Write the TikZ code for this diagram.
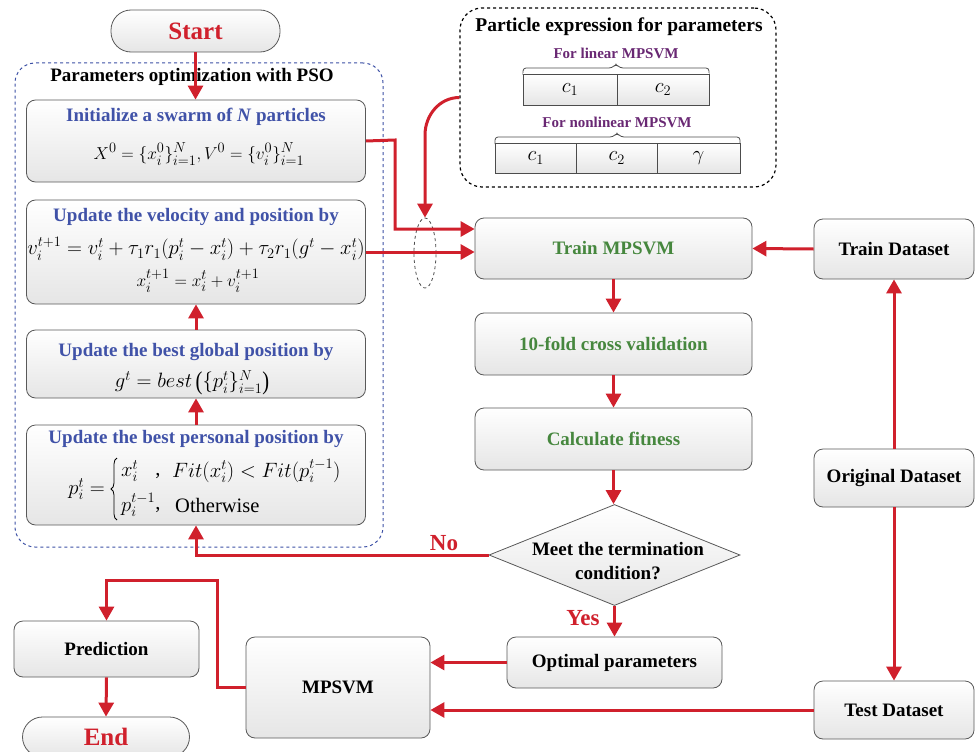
\documentclass[tikz,border=0pt]{standalone}
\usepackage{amsmath}
\usepackage{fontspec}
\setmainfont{Liberation Serif}
\usepackage{graphicx}
\usetikzlibrary{arrows.meta,shapes.geometric,decorations.pathreplacing}
\definecolor{myred}{RGB}{208,32,44}
\definecolor{tblue}{RGB}{64,82,168}
\definecolor{dblue}{RGB}{60,80,165}
\definecolor{tgreen}{RGB}{70,135,62}
\definecolor{tpurple}{RGB}{105,40,115}
\newcommand\fmain{\fontsize{19}{23}\selectfont\bfseries}
\newcommand\fmath{\fontsize{19}{23}\selectfont}
\newcommand\fpers{\fontsize{20.5}{24}\selectfont}
\newcommand\fcell{\fontsize{22}{26}\selectfont}
\newcommand\fsmall{\fontsize{15}{18}\selectfont\bfseries}
\newcommand\fred{\fontsize{25}{30}\selectfont\bfseries}
\newcommand\flab{\fontsize{23}{27}\selectfont\bfseries}
\begin{document}
\begin{tikzpicture}[x=1pt,y=-1pt,
  box/.style={draw=black!65, line width=0.8pt, rounded corners=9pt, top color=white, bottom color=black!10, inner sep=0pt, align=center, font=\fmain},
  pill/.style={box, rounded corners=20pt},
  cell/.style={draw=black!70, line width=0.8pt, top color=white, bottom color=black!10, inner sep=0pt, font=\fcell},
  psobox/.style={draw=dblue, dashed, line width=1pt, rounded corners=20pt, inner sep=0pt},
  partbox/.style={draw=black, dashed, line width=1.2pt, rounded corners=22pt, inner sep=0pt},
  arr/.style={draw=myred, line width=3pt, -{Triangle[length=14pt,width=15pt]}},
  lbl/.style={font=\fmain, inner sep=0pt},
  frm/.style={font=\fmath, inner sep=0pt},
  pfrm/.style={font=\fpers, inner sep=0pt}
]
\useasboundingbox (0,0) rectangle (977,752);

% ---------- PSO group ----------
\node[psobox, minimum width=368pt, minimum height=484pt] (pso) at (199,305) {};
\node[lbl] (psot) at (192,77) {Parameters optimization with PSO};

\node[pill, minimum width=169pt, minimum height=42pt, font=\fred, text=myred] (start) at (195.5,31) {Start};

\node[box, minimum width=339pt, minimum height=82pt] (init) at (196,141) {};
\node[lbl, text=tblue] (initt) at (196,117) {Initialize a swarm of \textit{N} particles};
\node[frm] (initf) at (199,154) {$X^0=\{x_i^0\}_{i=1}^N, V^0=\{v_i^0\}_{i=1}^N$};

\node[box, minimum width=339pt, minimum height=104pt] (vel) at (196,252) {};
\node[lbl, text=tblue] (velt) at (196,217) {Update the velocity and position by};
\node[frm, font=\fontsize{20.3}{24}\selectfont] (velf1) at (196,249) {$v_i^{t+1} = v_i^t+\tau_1 r_1(p_i^t - x_i^t)+\tau_2 r_1(g^t - x_i^t)$};
\node[frm] (velf2) at (198,281) {$x_i^{t+1} = x_i^t + v_i^{t+1}$};

\node[box, minimum width=339pt, minimum height=68pt] (glob) at (196,364) {};
\node[lbl, text=tblue] (globt) at (196,352) {Update the best global position by};
\node[frm, font=\fontsize{20.5}{24}\selectfont] (globf) at (192,383) {$g^t = best$\,\raisebox{-2pt}{\scalebox{1}[1.25]{(}}$\{p_i^t\}_{i=1}^N$\raisebox{-2pt}{\scalebox{1}[1.25]{)}}};

\node[box, minimum width=339pt, minimum height=100pt] (pers) at (196,475) {};
\node[lbl, text=tblue] (perst) at (196,439) {Update the best personal position by};
\node[pfrm, anchor=east] (pl) at (105,489) {$p_i^t=$};
\draw[decorate, decoration={brace, amplitude=6pt}, line width=0.8pt] (117,520) -- (117,458);
\node[pfrm, anchor=west] (px) at (121,471) {$x_i^t$};
\node[pfrm, anchor=west] (pp) at (121,505) {$p_i^{t-1}$};
\node[pfrm] (pc1) at (158,476) {,};
\node[pfrm] (pc2) at (158,510) {,};
\node[pfrm, anchor=west] (pfit) at (172,471) {$Fit(x_i^t)<Fit(p_i^{t-1})$};
\node[pfrm, anchor=west] (poth) at (175,505) {Otherwise};

% ---------- particle expression ----------
\node[partbox, minimum width=316pt, minimum height=179pt] (part) at (618,97.5) {};
\node[lbl, font=\fontsize{19.5}{23}\selectfont\bfseries] (partt) at (619,27) {Particle expression for parameters};
\node[font=\fsmall, text=tpurple, inner sep=0pt] (lin) at (616,53) {For linear MPSVM};
\draw[black!70, line width=0.8pt, rounded corners=3pt] (523,75) -- (523,68) -- (612,68) -- (616,64) -- (620,68) -- (709,68) -- (709,75);
\node[cell, minimum width=94pt, minimum height=31pt] (l1) at (570,89.5) {$c_1$};
\node[cell, minimum width=92pt, minimum height=31pt] (l2) at (663,89.5) {$c_2$};
\node[font=\fsmall, text=tpurple, inner sep=0pt] (nlin) at (617,122) {For nonlinear MPSVM};
\draw[black!70, line width=0.8pt, rounded corners=3pt] (495,144) -- (495,137) -- (613,137) -- (617,133) -- (621,137) -- (740,137) -- (740,144);
\node[cell, minimum width=81.5pt, minimum height=30pt] (n1) at (535.75,158) {$c_1$};
\node[cell, minimum width=80.5pt, minimum height=30pt] (n2) at (616.75,158) {$c_2$};
\node[cell, minimum width=83pt, minimum height=30pt] (n3) at (698.5,158) {$\gamma$};

\node[draw=black!70, dashed, line width=0.8pt, ellipse, minimum width=22pt, minimum height=70pt, inner sep=0pt] (ell) at (425,253) {};

% ---------- main column ----------
\node[box, minimum width=277pt, minimum height=61pt, text=tgreen] (train) at (613.5,248.5) {Train MPSVM};
\node[box, minimum width=277pt, minimum height=62pt, text=tgreen] (fold) at (613.5,344) {10-fold cross validation};
\node[box, minimum width=277pt, minimum height=62pt, text=tgreen] (fit) at (613.5,439) {Calculate fitness};
\node[diamond, draw=black!65, line width=0.8pt, top color=white, bottom color=black!10, minimum width=251pt, minimum height=101pt, inner sep=0pt] (dia) at (614.5,555) {};
\node[lbl, align=center] (diat) at (618,561) {Meet the termination\\[1pt]condition?};
\node[box, minimum width=215pt, minimum height=51pt] (opt) at (614.5,662.5) {Optimal parameters};
\node[box, minimum width=184pt, minimum height=101pt] (mps) at (338,687.5) {MPSVM};

% ---------- right column ----------
\node[box, minimum width=160pt, minimum height=60pt] (trds) at (894,249) {Train Dataset};
\node[box, minimum width=160pt, minimum height=58pt] (orig) at (894,478) {Original Dataset};
\node[box, minimum width=160pt, minimum height=58pt] (test) at (894,710) {Test Dataset};

% ---------- bottom left ----------
\node[box, minimum width=185pt, minimum height=56pt] (pred) at (106.5,649) {Prediction};
\node[pill, minimum width=167pt, minimum height=40pt, font=\fred, text=myred] (end) at (106,737) {End};

\coordinate (bend) at (217,580);
\coordinate (knee) at (395,140);

% ---------- connectors ----------
\draw[arr] (start.south) -- (start.south |- init.north);
\draw[arr] (pers.north) -- (glob.south);
\draw[arr] (glob.north) -- (vel.south);
\draw[arr] (init.east) -- (knee) |- ([yshift=19.5pt]train.west);
\draw[arr] (vel.east) -- (vel.east -| train.west);
\draw[arr] (part.west) to[out=180,in=90] (425,135) -- (ell.north);
\draw[arr] (trds.west) -- (train.east);
\draw[arr] (train.south) -- (fold.north);
\draw[arr] (fold.south) -- (fit.north);
\draw[arr] (fit.south) -- (fit.south |- dia.north);
\draw[arr] (dia.south) -- (dia.south |- opt.north);
\node[font=\flab, text=myred, inner sep=0pt] (yes) at (583,618) {Yes};
\draw[arr] (dia.west) -| (pers.south);
\node[font=\flab, text=myred, inner sep=0pt] (no) at (444,543) {No};
\draw[arr] (opt.west) -- (opt.west -| mps.east);
\draw[arr] (test.west) -- (test.west -| mps.east);
\draw[arr] (orig.north) -- (trds.south);
\draw[arr] (orig.south) -- (test.north);
\draw[arr] (mps.west) -| (bend) -| (pred.north);
\draw[arr] (pred.south) -- (end.north);
\end{tikzpicture}
\end{document}
